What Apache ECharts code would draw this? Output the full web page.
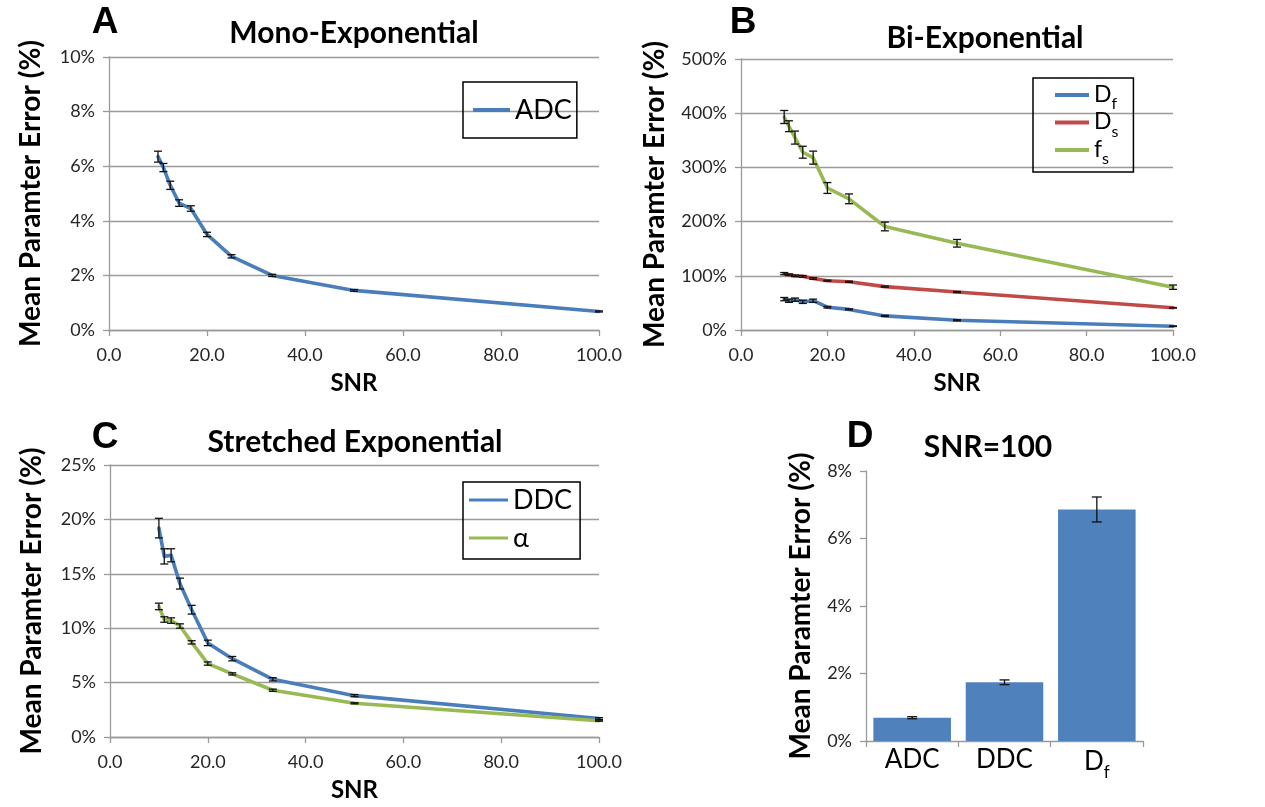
<!DOCTYPE html>
<html>
<head>
<meta charset="utf-8">
<script src="https://cdn.jsdelivr.net/npm/echarts@6/dist/echarts.min.js"></script>
<style>
  html, body { margin: 0; padding: 0; background: #fff; }
  #main { width: 1265px; height: 807px; }
</style>
</head>
<body>
<div id="main"></div>
<script>
// SNR levels shared by the three line panels
var snr = [10, 11.1, 12.5, 14.3, 16.7, 20, 25, 33.3, 50, 100];
var xTicks = [0, 20, 40, 60, 80, 100];

// A: mono-exponential
var adcVals = [6.35, 5.95, 5.3, 4.65, 4.45, 3.5, 2.7, 2.0, 1.45, 0.68];
var adcErr  = [0.2, 0.15, 0.15, 0.12, 0.1, 0.08, 0.06, 0.04, 0.03, 0.02];

// B: bi-exponential
var dfVals = [57, 54, 56, 52, 54, 42, 38, 26, 18, 7];
var dfErr  = [3, 3, 3, 3, 3, 1.5, 1, 1, 1, 0.5];
var dsVals = [104, 102, 100, 99, 95, 91, 89, 80, 70, 41];
var dsErr  = [2, 1.5, 1.5, 1.5, 1.5, 1, 1, 1, 1, 0.5];
var fsVals = [393, 376, 355, 328, 318, 262, 242, 191, 160, 79];
var fsErr  = [12, 10, 12, 11, 12, 10, 9, 8, 7, 4];

// C: stretched exponential
var ddcVals   = [19.2, 16.6, 16.7, 14.1, 11.7, 8.65, 7.2, 5.3, 3.8, 1.7];
var ddcErr    = [0.9, 0.7, 0.6, 0.5, 0.4, 0.25, 0.2, 0.15, 0.1, 0.08];
var alphaVals = [12.0, 10.8, 10.7, 10.2, 8.7, 6.75, 5.8, 4.3, 3.1, 1.5];
var alphaErr  = [0.3, 0.25, 0.25, 0.2, 0.15, 0.15, 0.1, 0.1, 0.05, 0.05];

// D: SNR = 100
var barCats = ['ADC', 'DDC', 'Df'];
var barVals = [0.69, 1.74, 6.86];
var barErr  = [0.03, 0.07, 0.37];

var BLUE = '#4a7ebb', RED = '#be4b48', GREEN = '#98b954', BAR = '#4f81bd';
var GRAY = '#9a9a9a';
var LBL = { fontFamily: 'Lato', fontSize: 18, color: '#262626' };

function pairs(vals) {
  return vals.map(function (v, i) { return [snr[i], v]; });
}
function errs(vals, e, xs) {
  return vals.map(function (v, i) { return [xs ? xs[i] : i, v - e[i], v + e[i]]; });
}
function errRender(half) {
  return function (params, api) {
    var x = api.value(0);
    var lo = api.coord([x, api.value(1)]);
    var hi = api.coord([x, api.value(2)]);
    var st = { stroke: '#111', lineWidth: 1.3 };
    return {
      type: 'group',
      children: [
        { type: 'line', shape: { x1: lo[0], y1: lo[1], x2: hi[0], y2: hi[1] }, style: st },
        { type: 'line', shape: { x1: lo[0] - half, y1: lo[1], x2: lo[0] + half, y2: lo[1] }, style: st },
        { type: 'line', shape: { x1: hi[0] - half, y1: hi[1], x2: hi[0] + half, y2: hi[1] }, style: st }
      ]
    };
  };
}
function xAxisSnr(gi) {
  return {
    type: 'value', gridIndex: gi, min: 0, max: 100, interval: 20,
    name: 'SNR', nameLocation: 'middle', nameGap: 41,
    nameTextStyle: { fontFamily: 'Lato', fontWeight: 'bold', fontSize: 24, color: '#000' },
    axisLine: { lineStyle: { color: GRAY, width: 1.3 } },
    axisTick: { show: true, length: 6, lineStyle: { color: GRAY, width: 1.3 } },
    axisLabel: Object.assign({ margin: 16, formatter: function (v) { return v.toFixed(1); } }, LBL),
    splitLine: { show: false }
  };
}
function yAxisPct(gi, max, interval, gap, split) {
  return {
    type: 'value', gridIndex: gi, min: 0, max: max, interval: interval,
    name: 'Mean Paramter Error (%)', nameLocation: 'middle', nameGap: gap,
    nameTextStyle: { fontFamily: 'Lato', fontWeight: 'bold', fontSize: 28, color: '#000' },
    axisLine: { show: true, lineStyle: { color: GRAY, width: 1.3 } },
    axisTick: { show: true, length: 6, lineStyle: { color: GRAY, width: 1.3 } },
    axisLabel: Object.assign({ margin: 14, formatter: '{value}%' }, LBL),
    splitLine: { show: split, lineStyle: { color: GRAY, width: 1.3 } }
  };
}
function lineSeries(name, vals, color, gi) {
  return {
    name: name, type: 'line', xAxisIndex: gi, yAxisIndex: gi, data: pairs(vals),
    symbol: 'none', color: color,
    lineStyle: { color: color, width: 3.6, cap: 'round', join: 'round' }, z: 2
  };
}
function errSeries(vals, e, gi, half) {
  return {
    type: 'custom', xAxisIndex: gi, yAxisIndex: gi, renderItem: errRender(half),
    data: errs(vals, e, snr), encode: { x: 0, y: [1, 2] }, z: 5, silent: true
  };
}
var subRich = {
  m: { fontFamily: 'Lato', fontSize: 23, color: '#000', verticalAlign: 'bottom', lineHeight: 22 },
  s: { fontFamily: 'Lato', fontSize: 16, color: '#000', verticalAlign: 'bottom', lineHeight: 16, padding: [0, 0, -6, 0] }
};
function subFmt(name) {
  return '{m|' + name.charAt(0) + '}{s|' + name.slice(1) + '}';
}
function headText(x, y, text, size, family) {
  return {
    type: 'text', x: x, y: y, silent: true,
    style: { text: text, fontFamily: family || 'Lato', fontWeight: 'bold', fontSize: size,
      fill: '#000', align: 'center', verticalAlign: 'middle' }
  };
}

var chart = echarts.init(document.getElementById('main'));
chart.setOption({
  backgroundColor: '#fff',
  animation: false,
  grid: [
    { left: 109, top: 57, width: 490, height: 273 },
    { left: 741, top: 59, width: 432, height: 271 },
    { left: 110, top: 465, width: 489, height: 272 },
    { left: 866, top: 471, width: 277, height: 270 }
  ],
  graphic: [
    headText(105, 23, 'A', 37, 'Liberation Sans'),
    headText(743, 23, 'B', 37, 'Liberation Sans'),
    headText(105, 438, 'C', 37, 'Liberation Sans'),
    headText(860, 437, 'D', 37, 'Liberation Sans'),
    headText(354, 33, 'Mono-Exponential', 30),
    headText(985, 38, 'Bi-Exponential', 30),
    headText(355, 442, 'Stretched Exponential', 30),
    headText(988, 447, 'SNR=100', 30)
  ],
  legend: [
    {
      data: ['ADC'], orient: 'vertical', left: 463, top: 82,
      padding: [13, 5, 13, 10], borderColor: '#000', borderWidth: 1.5,
      icon: 'rect', itemWidth: 37, itemHeight: 4,
      textStyle: { fontFamily: 'Lato', fontSize: 27, color: '#000', lineHeight: 30 }
    },
    {
      data: ['Df', 'Ds', 'fs'], orient: 'vertical', left: 1033, top: 78, itemGap: -1.5,
      padding: [5, 15, 5, 22], borderColor: '#000', borderWidth: 1.5,
      icon: 'rect', itemWidth: 34, itemHeight: 4,
      formatter: subFmt, textStyle: { rich: subRich }
    },
    {
      data: ['DDC', 'α'], orient: 'vertical', left: 463, top: 482, itemGap: 8,
      padding: [3, 8, 6, 6], borderColor: '#000', borderWidth: 1.5,
      icon: 'rect', itemWidth: 39, itemHeight: 3,
      textStyle: { fontFamily: 'Lato', fontSize: 27, color: '#000', lineHeight: 30 }
    }
  ],
  xAxis: [
    xAxisSnr(0),
    xAxisSnr(1),
    xAxisSnr(2),
    {
      type: 'category', gridIndex: 3, data: barCats,
      axisLine: { lineStyle: { color: GRAY, width: 1.3 } },
      axisTick: { show: true, length: 6, lineStyle: { color: GRAY, width: 1.3 } },
      axisLabel: {
        interval: 0, margin: 6, fontFamily: 'Lato', fontSize: 26, color: '#000',
        formatter: function (v) { return v === 'Df' ? '{m|D}{s|f}' : v; },
        rich: {
          m: { fontFamily: 'Lato', fontSize: 26, color: '#000', verticalAlign: 'bottom', lineHeight: 28 },
          s: { fontFamily: 'Lato', fontSize: 17, color: '#000', verticalAlign: 'bottom', lineHeight: 19, padding: [0, 0, -6, 0] }
        }
      }
    }
  ],
  yAxis: [
    yAxisPct(0, 10, 2, 64, true),
    yAxisPct(1, 500, 100, 72, true),
    yAxisPct(2, 25, 5, 64, true),
    yAxisPct(3, 8, 2, 51, false)
  ],
  series: [
    lineSeries('ADC', adcVals, BLUE, 0),
    errSeries(adcVals, adcErr, 0, 4),
    lineSeries('Df', dfVals, BLUE, 1),
    lineSeries('Ds', dsVals, RED, 1),
    lineSeries('fs', fsVals, GREEN, 1),
    errSeries(dfVals, dfErr, 1, 4),
    errSeries(dsVals, dsErr, 1, 4),
    errSeries(fsVals, fsErr, 1, 4),
    lineSeries('DDC', ddcVals, BLUE, 2),
    lineSeries('α', alphaVals, GREEN, 2),
    errSeries(ddcVals, ddcErr, 2, 4),
    errSeries(alphaVals, alphaErr, 2, 4),
    {
      name: 'SNR=100', type: 'bar', xAxisIndex: 3, yAxisIndex: 3, data: barVals,
      barCategoryGap: '16%', itemStyle: { color: BAR }
    },
    {
      type: 'custom', xAxisIndex: 3, yAxisIndex: 3, renderItem: errRender(5),
      data: errs(barVals, barErr), encode: { x: 0, y: [1, 2] }, z: 5, silent: true
    }
  ]
});
</script>
</body>
</html>
